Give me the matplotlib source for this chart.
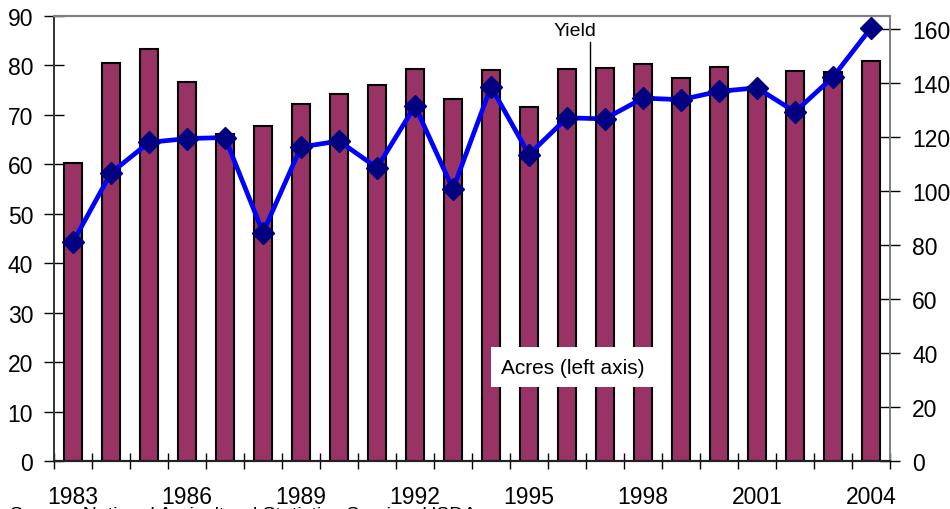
import matplotlib
matplotlib.use("Agg")
import matplotlib.pyplot as plt
from matplotlib.ticker import MultipleLocator, FixedLocator

plt.rcParams['font.family'] = ['Liberation Sans', 'DejaVu Sans']

# data
years = list(range(1983, 2005))
acres = [60.2, 80.5, 83.4, 76.6, 66.2, 67.7, 72.3, 74.2, 76.0, 79.3, 73.2,
         79.0, 71.5, 79.2, 79.5, 80.2, 77.4, 79.6, 75.7, 78.9, 78.7, 80.9]
yield_bu = [81.1, 106.7, 118.0, 119.4, 119.8, 84.6, 116.3, 118.5, 108.6, 131.5, 100.7,
            138.6, 113.5, 127.1, 126.7, 134.4, 133.8, 136.9, 138.2, 129.3, 142.2, 160.4]
label_years = [1983, 1986, 1989, 1992, 1995, 1998, 2001, 2004]

fig = plt.figure(figsize=(9.5, 5.1), dpi=100)
ax = fig.add_axes([54 / 950, 48 / 510, 836 / 950, 445 / 510])
ax2 = ax.twinx()

# bars (left axis)
ax.bar(years, acres, width=0.45, color='#993366', edgecolor='black', linewidth=1.5, zorder=2)
ax.set_ylim(0, 90)
ax.set_xlim(1982.5, 2004.5)
ax.yaxis.set_major_locator(MultipleLocator(10))

# yield line (right axis)
ax2.plot(years, yield_bu, color='#0000FF', linewidth=3.4, marker='D', markersize=11,
         markerfacecolor='#000080', markeredgecolor='#000080', zorder=3)
ax2.set_ylim(0, 164.8)
ax2.yaxis.set_major_locator(MultipleLocator(20))

# x ticks: labels every 3 years, tick marks on category boundaries
ax.xaxis.set_major_locator(FixedLocator(label_years))
ax.xaxis.set_minor_locator(FixedLocator([y - 0.5 for y in years] + [2004.5]))
ax.tick_params(axis='x', which='major', length=0, pad=17, labelsize=16.5)
ax.tick_params(axis='x', which='minor', direction='inout', length=12, width=1)
ax.tick_params(axis='y', direction='inout', length=14, width=1, pad=8, labelsize=16.5)
ax2.tick_params(axis='y', direction='inout', length=14, width=1, pad=9, labelsize=16.5)

for a in (ax, ax2):
    a.spines['top'].set_color('#808080')
    a.spines['right'].set_color('#808080')
    a.spines['left'].set_color('#333333')
    a.spines['bottom'].set_color('#222222')
    a.spines['top'].set_linewidth(1.5)
    a.spines['left'].set_linewidth(1.2)
    a.spines['right'].set_linewidth(1.2)
    a.spines['bottom'].set_linewidth(1.5)

# annotations
ax2.text(1996.2, 159.5, 'Yield', fontsize=14, ha='center', va='center')
ax2.plot([1996.6, 1996.6], [155, 126.6], color='black', linewidth=1, zorder=4)
ax2.text(1996.15, 34.8, 'Acres (left axis)', fontsize=15, ha='center', va='center',
         zorder=5, bbox=dict(boxstyle='square,pad=0.5', facecolor='white', edgecolor='none'))

fig.text(10 / 950, 1 - 507 / 510, 'Source: National Agricultural Statistics Service, USDA.',
         fontsize=14, ha='left', va='top')

fig.savefig('out.png', dpi=100)
